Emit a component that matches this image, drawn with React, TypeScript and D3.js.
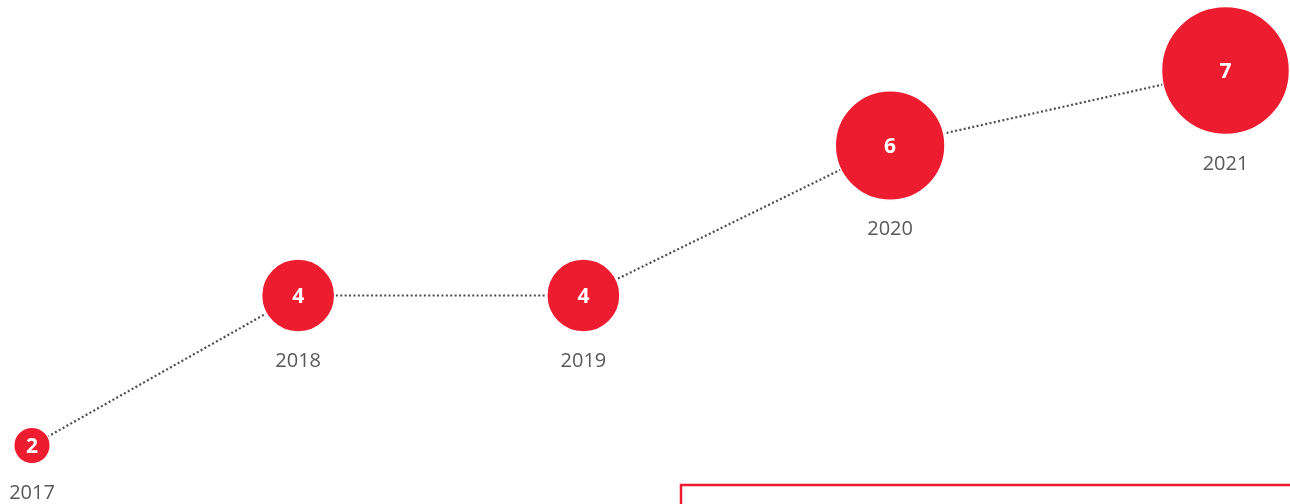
import React from "react";
import * as d3 from "d3";

const years = ["2017", "2018", "2019", "2020", "2021"];
const values = [2, 4, 4, 6, 7];
// horizontal placement of each bubble along the timeline (0–100)
const xPos = [0, 22.3, 46.2, 71.9, 100];

const W = 1290;
const H = 504;
const RED = "#ED1C2E";
const GREY = "#595959";

export default function App() {
  const x = d3.scaleLinear().domain([0, 100]).range([32, 1225.5]);
  const y = d3.scaleLinear().domain([0, 7]).range([595.5, 70.5]);
  const r = d3.scaleLinear().domain([0, 7]).range([0, 64]);

  const pts = values.map((v, i) => ({ v, year: years[i], cx: x(xPos[i]), cy: y(v), rr: r(v) }));
  const line = d3
    .line<{ cx: number; cy: number }>()
    .x((d) => d.cx)
    .y((d) => d.cy);

  return (
    <div style={{ position: "fixed", left: 0, top: 0 }}>
      <svg width={W} height={H} style={{ display: "block" }}>
        <rect x={681} y={485} width={700} height={100} fill="none" stroke={RED} strokeWidth={2.5} />
        <path d={line(pts) || ""} fill="none" stroke="#4d4d4d" strokeWidth={2.2} strokeDasharray="2 2.4" />
        {pts.map((p) => (
          <g key={p.year}>
            <circle cx={p.cx} cy={p.cy} r={p.rr} fill={RED} stroke="#fff" strokeWidth={1.5} />
            <text
              x={p.cx}
              y={p.cy + 7.5}
              textAnchor="middle"
              fill="#fff"
              fontFamily="'Open Sans', sans-serif"
              fontWeight={700}
              fontSize={21}
            >
              {p.v}
            </text>
            <text
              x={p.cx}
              y={p.cy + p.rr + 35}
              textAnchor="middle"
              fill={GREY}
              fontFamily="'Open Sans', sans-serif"
              fontSize={20}
            >
              {p.year}
            </text>
          </g>
        ))}
      </svg>
    </div>
  );
}
